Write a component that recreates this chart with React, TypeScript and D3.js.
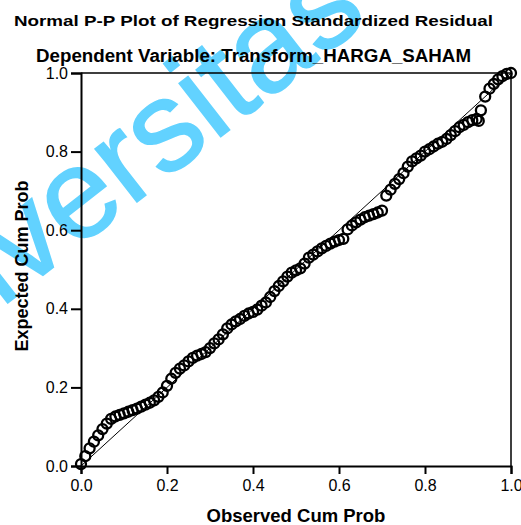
import React, { useEffect, useRef } from "react";
import * as d3 from "d3";

const title = "Normal P-P Plot of Regression Standardized Residual";
const subtitle = "Dependent Variable: Transform_HARGA_SAHAM";
const xTitle = "Observed Cum Prob";
const yTitle = "Expected Cum Prob";
const watermark = "Universitas";

const tickValues = [0, 0.2, 0.4, 0.6, 0.8, 1.0];

// observed cumulative probability of each residual
const observedProb = [
  0.0, 0.01, 0.02, 0.03, 0.04, 0.05, 0.06, 0.07, 0.08, 0.09,
  0.1, 0.11, 0.12, 0.13, 0.14, 0.15, 0.16, 0.17, 0.18, 0.19,
  0.2, 0.21, 0.22, 0.23, 0.24, 0.25, 0.26, 0.27, 0.28, 0.29,
  0.3, 0.31, 0.32, 0.33, 0.34, 0.35, 0.36, 0.37, 0.38, 0.39,
  0.4, 0.41, 0.42, 0.43, 0.44, 0.45, 0.46, 0.47, 0.48, 0.49,
  0.5, 0.51, 0.52, 0.53, 0.54, 0.55, 0.56, 0.57, 0.58, 0.59,
  0.6, 0.61, 0.62, 0.63, 0.64, 0.65, 0.66, 0.67, 0.68, 0.69,
  0.7, 0.71, 0.72, 0.73, 0.74, 0.75, 0.76, 0.77, 0.78, 0.79,
  0.8, 0.81, 0.82, 0.83, 0.84, 0.85, 0.86, 0.87, 0.88, 0.89,
  0.9, 0.91, 0.92, 0.925, 0.93, 0.94, 0.95, 0.96, 0.97, 0.98,
  0.99, 1.0,
];

// expected cumulative probability (normal)
const expectedProb = [
  0.005, 0.025, 0.045, 0.062, 0.078, 0.094, 0.108, 0.12, 0.126, 0.13,
  0.134, 0.138, 0.142, 0.146, 0.151, 0.156, 0.161, 0.167, 0.176, 0.187,
  0.204, 0.222, 0.237, 0.248, 0.256, 0.266, 0.275, 0.281, 0.285, 0.29,
  0.3, 0.312, 0.322, 0.335, 0.35, 0.36, 0.368, 0.374, 0.382, 0.388,
  0.392, 0.398, 0.408, 0.416, 0.43, 0.445, 0.458, 0.47, 0.482, 0.492,
  0.498, 0.503, 0.515, 0.53, 0.538, 0.546, 0.554, 0.56, 0.566, 0.571,
  0.575, 0.578, 0.602, 0.612, 0.62, 0.627, 0.633, 0.637, 0.641, 0.645,
  0.65, 0.688, 0.703, 0.718, 0.73, 0.745, 0.762, 0.775, 0.783, 0.79,
  0.8, 0.806, 0.813, 0.82, 0.825, 0.832, 0.842, 0.852, 0.862, 0.868,
  0.875, 0.88, 0.883, 0.878, 0.905, 0.94, 0.96, 0.972, 0.984, 0.992,
  0.998, 1.0,
];

const W = 521;
const H = 525;
const font = "'Liberation Sans', Arial, sans-serif";

export default function App() {
  const ref = useRef<SVGSVGElement>(null);

  useEffect(() => {
    const svg = d3.select(ref.current);
    svg.selectAll("*").remove();

    const x = d3.scaleLinear().domain([0, 1]).range([81, 511]);
    const y = d3.scaleLinear().domain([0, 1]).range([466, 73]);

    svg.append("rect").attr("width", W).attr("height", H).attr("fill", "#fff");

    // scanned watermark behind the chart
    svg
      .append("text")
      .attr("transform", "translate(-128,409) rotate(-38)")
      .attr("font-family", font)
      .attr("font-size", 128)
      .attr("fill", "#62d2ff")
      .attr("stroke", "#62d2ff")
      .attr("stroke-width", 1.5)
      .text(watermark);

    svg
      .append("text")
      .attr("x", 14)
      .attr("y", 26)
      .attr("textLength", 479)
      .attr("lengthAdjust", "spacingAndGlyphs")
      .attr("font-family", font)
      .attr("font-weight", "bold")
      .attr("font-size", 15.5)
      .text(title);

    svg
      .append("text")
      .attr("x", 36)
      .attr("y", 62)
      .attr("textLength", 435)
      .attr("lengthAdjust", "spacingAndGlyphs")
      .attr("font-family", font)
      .attr("font-weight", "bold")
      .attr("font-size", 17.5)
      .text(subtitle);

    const fmt = d3.format(".1f");

    const gx = svg
      .append("g")
      .attr("transform", `translate(0,${y(0)})`)
      .call(d3.axisBottom(x).tickValues(tickValues).tickFormat((d) => fmt(d as number)).tickSizeOuter(0).tickSize(8));
    gx.select(".domain").attr("stroke-width", 2);
    gx.selectAll("text")
      .attr("font-family", font)
      .attr("font-size", 16)
      .attr("fill", "#000")
      .attr("dy", "0.9em");
    gx.selectAll("line").attr("stroke-width", 2);

    const gy = svg
      .append("g")
      .attr("transform", `translate(${x(0)},0)`)
      .call(d3.axisLeft(y).tickValues(tickValues).tickFormat((d) => fmt(d as number)).tickSizeOuter(0).tickSize(10));
    gy.select(".domain").attr("stroke-width", 2);
    gy.selectAll("text")
      .attr("font-family", font)
      .attr("font-size", 16)
      .attr("fill", "#000")
      .attr("x", -13);
    gy.selectAll("line").attr("stroke-width", 2);

    // frame top and right
    svg
      .append("path")
      .attr("d", `M${x(0)},${y(1)} H${x(1)} V${y(0)}`)
      .attr("fill", "none")
      .attr("stroke", "#000")
      .attr("stroke-width", 1.5);

    // reference diagonal
    svg
      .append("line")
      .attr("x1", x(0))
      .attr("y1", y(0))
      .attr("x2", x(1))
      .attr("y2", y(1))
      .attr("stroke", "#000")
      .attr("stroke-width", 1);

    svg
      .append("g")
      .selectAll("circle")
      .data(observedProb)
      .join("circle")
      .attr("cx", (d) => x(d))
      .attr("cy", (_, i) => y(expectedProb[i]))
      .attr("r", 5)
      .attr("fill", "none")
      .attr("stroke", "#000")
      .attr("stroke-width", 2.3);

    svg
      .append("text")
      .attr("x", 296)
      .attr("y", 522)
      .attr("text-anchor", "middle")
      .attr("font-family", font)
      .attr("font-weight", "bold")
      .attr("font-size", 18.5)
      .text(xTitle);

    svg
      .append("text")
      .attr("transform", "translate(28,266) rotate(-90)")
      .attr("text-anchor", "middle")
      .attr("font-family", font)
      .attr("font-weight", "bold")
      .attr("font-size", 18)
      .text(yTitle);
  }, []);

  return (
    <svg
      ref={ref}
      width={W}
      height={H}
      style={{ position: "absolute", left: 0, top: 0, display: "block" }}
    />
  );
}
